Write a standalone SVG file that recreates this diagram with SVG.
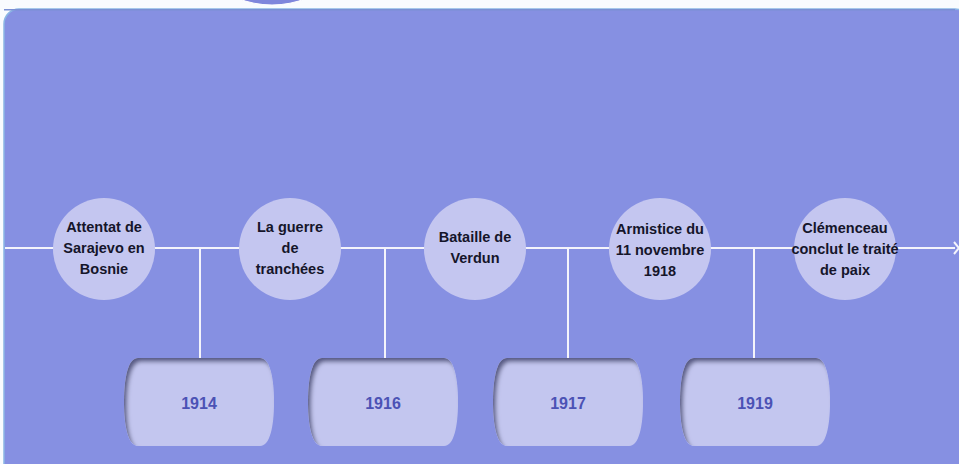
<svg xmlns="http://www.w3.org/2000/svg" width="959" height="464" viewBox="0 0 959 464">
<style>
.ev{fill:#c4c6f0}
.evt{font-family:"Liberation Sans",Arial,sans-serif;font-weight:bold;font-size:14.5px;fill:#15152a;text-anchor:middle}
.yr{fill:#c3c6ef}
.yt{font-family:"Liberation Sans",Arial,sans-serif;font-weight:bold;font-size:16px;fill:#4b52b5;text-anchor:middle}
.ln{stroke:#f4f4fb;stroke-width:2;fill:none}
</style>
<defs>
<filter id="inset" x="-10%" y="-10%" width="120%" height="120%">
<feOffset dx="3" dy="4" in="SourceAlpha" result="off"/>
<feGaussianBlur stdDeviation="2" in="off" result="blur"/>
<feComposite operator="arithmetic" k2="1" k3="-1" in="SourceAlpha" in2="blur" result="inv"/>
<feFlood flood-color="#3c4070" flood-opacity="0.9"/>
<feComposite operator="in" in2="inv"/>
<feComposite operator="over" in2="SourceGraphic"/>
</filter>
<path id="box" d="M14,0 H136 C146,0 150,20 150,44 C150,68 146,88 136,88 H14 C4,88 0,68 0,44 C0,20 4,0 14,0 Z"/>
</defs>
<rect width="959" height="464" fill="#f9fbfe"/>
<circle cx="272" cy="-87.5" r="92.5" fill="#7f86dc" stroke="#ffffff" stroke-width="1"/>
<rect x="4" y="9" width="966" height="470" rx="15" fill="#8690e2" stroke="#8ab6e4" stroke-width="1.5"/>
<line x1="4" y1="9.8" x2="955" y2="9.8" stroke="#7a90d4" stroke-width="1.5"/>

<g id="connectors">
<line class="ln" x1="5" y1="248" x2="955" y2="248"/>
<polyline class="ln" points="954,242 959,248 954,254" stroke-width="3"/>
<line class="ln" x1="200" y1="248" x2="200" y2="359"/>
<line class="ln" x1="385" y1="248" x2="385" y2="359"/>
<line class="ln" x1="568" y1="248" x2="568" y2="359"/>
<line class="ln" x1="754" y1="248" x2="754" y2="359"/>
</g>

<g id="e1"><circle class="ev" cx="104" cy="249" r="51"/>
<text class="evt"><tspan x="104" y="232">Attentat de</tspan><tspan x="104" y="253">Sarajevo en</tspan><tspan x="104" y="274">Bosnie</tspan></text></g>
<g id="e2"><circle class="ev" cx="290" cy="249" r="51"/>
<text class="evt"><tspan x="290" y="232">La guerre</tspan><tspan x="290" y="253">de</tspan><tspan x="290" y="274">tranchées</tspan></text></g>
<g id="e3"><circle class="ev" cx="475" cy="249" r="51"/>
<text class="evt"><tspan x="475" y="242">Bataille de</tspan><tspan x="475" y="263">Verdun</tspan></text></g>
<g id="e4"><circle class="ev" cx="660" cy="249" r="51"/>
<text class="evt"><tspan x="660" y="234">Armistice du</tspan><tspan x="660" y="255">11 novembre</tspan><tspan x="660" y="276">1918</tspan></text></g>
<g id="e5"><circle class="ev" cx="845" cy="249" r="51"/>
<text class="evt"><tspan x="845" y="233">Clémenceau</tspan><tspan x="845" y="254">conclut le traité</tspan><tspan x="845" y="275">de paix</tspan></text></g>

<g id="y1914"><use href="#box" class="yr" x="124" y="358" filter="url(#inset)"/><text class="yt" x="199" y="409">1914</text></g>
<g id="y1916"><use href="#box" class="yr" x="308" y="358" filter="url(#inset)"/><text class="yt" x="383" y="409">1916</text></g>
<g id="y1917"><use href="#box" class="yr" x="493" y="358" filter="url(#inset)"/><text class="yt" x="568" y="409">1917</text></g>
<g id="y1919"><use href="#box" class="yr" x="680" y="358" filter="url(#inset)"/><text class="yt" x="755" y="409">1919</text></g>
</svg>
